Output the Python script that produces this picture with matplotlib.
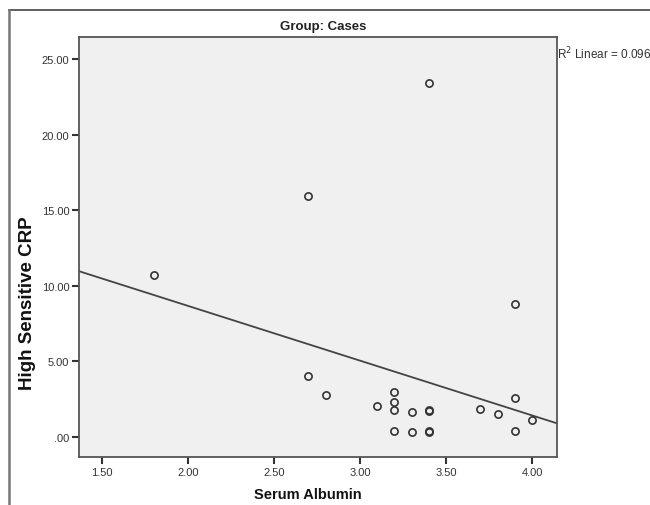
import matplotlib.pyplot as plt
from matplotlib.lines import Line2D
import numpy as np

plt.rcParams['font.family'] = ['Liberation Sans', 'DejaVu Sans']

# Serum albumin vs hs-CRP, group: cases
albumin = [1.80, 2.70, 2.70, 2.80, 3.40, 3.10, 3.20, 3.20, 3.20, 3.20,
           3.30, 3.30, 3.40, 3.40, 3.40, 3.40, 3.70, 3.80, 3.90, 3.90, 3.90, 4.00]
crp = [10.70, 15.92, 4.03, 2.78, 23.40, 2.07, 3.00, 2.29, 1.79, 0.42,
       1.68, 0.31, 1.79, 1.75, 0.38, 0.34, 1.85, 1.54, 8.80, 2.56, 0.42, 1.15]

# fit line as drawn in the picture
fit_intercept = 15.91
fit_slope = -3.62
r2_text = "R$^2$ Linear = 0.096"

x_ticks = [1.5, 2.0, 2.5, 3.0, 3.5, 4.0]
x_labels = ["1.50", "2.00", "2.50", "3.00", "3.50", "4.00"]
y_ticks = [0, 5, 10, 15, 20, 25]
y_labels = [".00", "5.00", "10.00", "15.00", "20.00", "25.00"]

W, H = 650, 506
fig = plt.figure(figsize=(W / 100, H / 100), dpi=100)
fig.patch.set_facecolor('white')

ax = fig.add_axes([79 / W, 1 - 458 / H, (557 - 79) / W, (458 - 38) / H])
ax.set_facecolor('#f0f0f0')

xlim = (1.366, 4.145)
ylim = (-1.32, 26.45)

xs = np.array(xlim)
ax.plot(xs, fit_intercept + fit_slope * xs, color='#444444', lw=1.3, zorder=2)

ax.plot(albumin, crp, linestyle='none', marker='o', markersize=5.2,
        markerfacecolor='none', markeredgecolor='#333333', markeredgewidth=1.2, zorder=3)

ax.set_xlim(xlim)
ax.set_ylim(ylim)
ax.set_xticks(x_ticks)
ax.set_xticklabels(x_labels)
ax.set_yticks(y_ticks)
ax.set_yticklabels(y_labels)
ax.tick_params(direction='out', length=5, width=1.5, color='#333333',
               labelsize=8, labelcolor='#333333', pad=2)

for s in ax.spines.values():
    s.set_color('#555555')
    s.set_linewidth(1.3)

# axis titles placed where the reference has them
fig.text(308 / W, 1 - 495 / H, "Serum Albumin", ha='center', va='center',
         fontsize=10.5, fontweight='bold', color='#111111')
fig.text(28 / W, 1 - 303 / H, "High Sensitive CRP", ha='center', va='center',
         rotation=90, fontsize=13.5, fontweight='bold', color='#111111')

fig.text(323 / W, 1 - 27 / H, "Group: Cases", ha='center', va='center',
         fontsize=9.5, fontweight='bold', color='#222222')
fig.text(557 / W, 1 - 54 / H, r2_text, ha='left', va='center',
         fontsize=8.5, color='#333333')

# outer frame (top and left edges visible)
fig.add_artist(Line2D([8.5 / W, 1.0], [1 - 11 / H, 1 - 11 / H], transform=fig.transFigure,
                      color='#444444', lw=1.2))
fig.add_artist(Line2D([8.5 / W, 8.5 / W], [0.0, 1 - 11 / H], transform=fig.transFigure,
                      color='#777777', lw=1.8))

fig.savefig("out.png", dpi=100)
